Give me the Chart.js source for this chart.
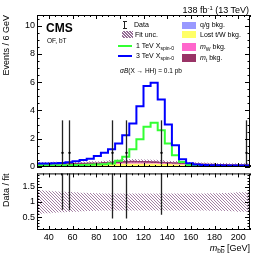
<!DOCTYPE html>
<html>
<head>
<meta charset="utf-8">
<script src="https://cdn.jsdelivr.net/npm/chart.js@4.4.0/dist/chart.umd.min.js"></script>
<style>
  body { margin: 0; background: #fff; }
  #wrap { position: relative; width: 266px; height: 256px; overflow: hidden;
          font-family: "Liberation Sans", Arial, Helvetica, sans-serif; color: #000; }
  canvas { position: absolute; left: 0; }
  .t { position: absolute; white-space: nowrap; z-index: 2; }
  .t sub { font-size: 72%; vertical-align: -0.35em; line-height: 0; }
  .t sup { font-size: 65%; vertical-align: 0.5em; line-height: 0; }
  .sw { position: absolute; z-index: 2; }
  .lg { font-size: 7px; line-height: 8px; }
</style>
</head>
<body>
<div id="wrap">
  <canvas id="top" width="266" height="176" style="top:0"></canvas>
  <canvas id="ratio" width="266" height="90" style="top:166px"></canvas>

  <div class="t" style="right:17px;top:5px;font-size:9px;line-height:10px;">138 fb<sup>-1</sup> (13 TeV)</div>
  <div class="t" style="left:46px;top:22px;font-size:12px;line-height:13px;font-weight:bold;">CMS</div>
  <div class="t" style="left:47px;top:37px;font-size:6.5px;line-height:7px;">OF, bT</div>

  <!-- legend, left column -->
  <div class="sw" style="left:124px;top:21px;width:1px;height:8px;background:#222;"></div>
  <div class="sw" style="left:122.5px;top:21px;width:4px;height:1px;background:#222;"></div>
  <div class="sw" style="left:122.5px;top:28px;width:4px;height:1px;background:#222;"></div>
  <div class="t lg" style="left:134px;top:21px;">Data</div>
  <div class="sw" id="hatchSw" style="left:122px;top:31px;width:11px;height:7px;"></div>
  <div class="t lg" style="left:135px;top:30.5px;">Fit unc.</div>
  <div class="sw" style="left:118px;top:44.5px;width:14px;height:2px;background:#33ff33;"></div>
  <div class="t lg" style="left:136px;top:41.5px;">1 TeV X<sub>spin-0</sub></div>
  <div class="sw" style="left:118px;top:55px;width:14px;height:2px;background:#0000ff;"></div>
  <div class="t lg" style="left:136px;top:52px;">3 TeV X<sub>spin-0</sub></div>
  <div class="t" style="left:120px;top:66.5px;font-size:6.5px;line-height:7px;"><i>σ</i><i>B</i>(X → HH) = 0.1 pb</div>

  <!-- legend, right column -->
  <div class="sw" style="left:182px;top:21.5px;width:14px;height:7px;background:#9999ff;"></div>
  <div class="t lg" style="left:200px;top:21px;">q/g bkg.</div>
  <div class="sw" style="left:182px;top:31px;width:14px;height:7px;background:#ffff66;"></div>
  <div class="t lg" style="left:200px;top:30.5px;">Lost t/W bkg.</div>
  <div class="sw" style="left:182px;top:42.5px;width:14px;height:8px;background:#ff66cc;"></div>
  <div class="t lg" style="left:200px;top:42.5px;"><i>m</i><sub>W</sub> bkg.</div>
  <div class="sw" style="left:182px;top:53.5px;width:14px;height:8px;background:#993366;"></div>
  <div class="t lg" style="left:200px;top:53.5px;"><i>m</i><sub>t</sub> bkg.</div>

  <div class="t" style="right:16px;top:243px;font-size:9px;line-height:10px;"><i>m</i><sub>b<span style="text-decoration:overline">b</span></sub> [GeV]</div>
</div>

<script>
// binning: 30 bins of 6 GeV from 30 to 210
const binEdges = [30, 36, 42, 48, 54, 60, 66, 72, 78, 84, 90, 96, 102, 108, 114, 120,
  126, 132, 138, 144, 150, 156, 162, 168, 174, 180, 186, 192, 198, 204, 210];

// stacked backgrounds (events per bin)
const bkgQG = [0.05, 0.05, 0.05, 0.05, 0.05, 0.05, 0.05, 0.05, 0.05, 0.05, 0.05, 0.05, 0.05, 0.05, 0.05,
  0.05, 0.05, 0.05, 0.05, 0.05, 0.05, 0.05, 0.05, 0.05, 0.05, 0.05, 0.05, 0.04, 0.04, 0.04];
const bkgLostTW = [0.08, 0.08, 0.09, 0.09, 0.1, 0.1, 0.11, 0.12, 0.13, 0.14, 0.16, 0.18, 0.19, 0.2, 0.2,
  0.2, 0.19, 0.18, 0.16, 0.14, 0.12, 0.1, 0.09, 0.08, 0.07, 0.06, 0.06, 0.05, 0.05, 0.05];
const bkgMW = [0.03, 0.03, 0.03, 0.03, 0.03, 0.03, 0.04, 0.04, 0.04, 0.05, 0.05, 0.05, 0.06, 0.06, 0.06,
  0.05, 0.05, 0.05, 0.04, 0.04, 0.04, 0.03, 0.03, 0.03, 0.03, 0.03, 0.03, 0.03, 0.03, 0.03];
const bkgMT = [0.1, 0.1, 0.1, 0.1, 0.1, 0.1, 0.1, 0.1, 0.1, 0.11, 0.12, 0.13, 0.13, 0.13, 0.12,
  0.12, 0.11, 0.1, 0.1, 0.1, 0.09, 0.09, 0.09, 0.09, 0.08, 0.08, 0.08, 0.08, 0.08, 0.08];

// relative fit uncertainty per bin
const fitRelUnc = [0.39, 0.37, 0.36, 0.34, 0.33, 0.32, 0.31, 0.3, 0.29, 0.28, 0.28, 0.28, 0.28, 0.28, 0.28,
  0.28, 0.28, 0.28, 0.28, 0.28, 0.28, 0.28, 0.28, 0.28, 0.29, 0.29, 0.3, 0.31, 0.32, 0.32];

// signals
const sig1TeV = [0.12, 0.12, 0.12, 0.13, 0.13, 0.14, 0.15, 0.16, 0.18, 0.2, 0.25, 0.45, 0.73, 1.25, 1.96,
  2.85, 3.13, 2.6, 1.67, 0.83, 0.35, 0.15, 0.1, 0.08, 0.07, 0.06, 0.06, 0.05, 0.05, 0.05];
const sig3TeV = [0.24, 0.25, 0.27, 0.28, 0.33, 0.4, 0.5, 0.59, 0.78, 1.01, 1.25, 1.67, 2.24, 3.08, 4.3,
  5.72, 5.96, 4.78, 3.0, 1.53, 0.54, 0.26, 0.18, 0.15, 0.13, 0.12, 0.11, 0.1, 0.1, 0.1];

// observed data (non-empty bins only)
const dataX = [51, 57, 93, 105, 135, 207];
const dataY = [1, 1, 1, 1, 1, 1];
const dataErrLow = [0.83, 0.83, 0.83, 0.83, 0.83, 0.83];
const dataErrHigh = [2.3, 2.3, 2.3, 2.3, 2.3, 2.3];

// ratio panel: data / fit error bars (upper ends are off scale)
const ratioX = [51, 57, 93, 105, 135];
const ratioLow = [0.74, 0.73, 0.45, 0.45, 0.58];
const ratioHigh = [6, 6, 5, 5, 6];

// ticks
const xTicks = [40, 60, 80, 100, 120, 140, 160, 180, 200];
const xMinor = [30, 35, 45, 50, 55, 65, 70, 75, 85, 90, 95, 105, 110, 115, 125, 130, 135,
  145, 150, 155, 165, 170, 175, 185, 190, 195, 205, 210];
const topYTicks = [0, 2, 4, 6, 8, 10];
const topYMinor = [0.5, 1, 1.5, 2.5, 3, 3.5, 4.5, 5, 5.5, 6.5, 7, 7.5, 8.5, 9, 9.5, 10.5];
const ratioYTicks = [0.5, 1, 1.5];
const ratioYMinor = [0.1, 0.2, 0.3, 0.4, 0.6, 0.7, 0.8, 0.9, 1.1, 1.2, 1.3, 1.4, 1.6, 1.7, 1.8, 1.9];

const FONT = '"Liberation Sans", Arial, sans-serif';

function histPoints(values) {
  return binEdges.map((e, i) => ({ x: e, y: values[Math.min(i, values.length - 1)] }));
}

function makeHatch(color) {
  const c = document.createElement('canvas');
  c.width = 3; c.height = 3;
  const g = c.getContext('2d');
  g.strokeStyle = color;
  g.lineWidth = 1;
  g.beginPath();
  g.moveTo(-1, -1); g.lineTo(4, 4);
  g.moveTo(-1, 2); g.lineTo(1, 4);
  g.moveTo(2, -1); g.lineTo(4, 1);
  g.stroke();
  return g.createPattern(c, 'repeat');
}

// inward ticks on all four sides, plus frame
function frameTicks(xMaj, xMin, yMaj, yMin, lx, ly) {
  return {
    id: 'frameTicks',
    afterDraw(chart) {
      const { ctx, chartArea: a, scales } = chart;
      ctx.save();
      ctx.strokeStyle = '#000';
      ctx.lineWidth = 1;
      ctx.beginPath();
      const vx = (vals, L) => vals.forEach(v => {
        const p = Math.round(scales.x.getPixelForValue(v)) + 0.5;
        ctx.moveTo(p, a.bottom); ctx.lineTo(p, a.bottom - L);
        ctx.moveTo(p, a.top); ctx.lineTo(p, a.top + L);
      });
      const vy = (vals, L) => vals.forEach(v => {
        if (v < scales.y.min || v > scales.y.max) return;
        const p = Math.round(scales.y.getPixelForValue(v)) + 0.5;
        ctx.moveTo(a.left, p); ctx.lineTo(a.left + L, p);
        ctx.moveTo(a.right, p); ctx.lineTo(a.right - L, p);
      });
      vx(xMaj, lx); vx(xMin, lx / 2);
      vy(yMaj, ly); vy(yMin, ly / 2);
      ctx.stroke();
      ctx.strokeRect(a.left + 0.5, a.top + 0.5, a.right - a.left - 1, a.bottom - a.top - 1);
      ctx.restore();
    }
  };
}

function errorBars(xs, lows, highs, centers) {
  return {
    id: 'errorBars',
    afterDatasetsDraw(chart) {
      const { ctx, chartArea: a, scales: { x, y } } = chart;
      ctx.save();
      ctx.beginPath();
      ctx.rect(a.left, a.top, a.right - a.left, a.bottom - a.top);
      ctx.clip();
      ctx.strokeStyle = '#222';
      ctx.fillStyle = '#000';
      ctx.lineWidth = 1.3;
      xs.forEach((xv, i) => {
        const px = Math.round(x.getPixelForValue(xv)) + 0.5;
        ctx.beginPath();
        ctx.moveTo(px, y.getPixelForValue(lows[i]));
        ctx.lineTo(px, y.getPixelForValue(highs[i]));
        ctx.stroke();
        if (centers) {
          ctx.beginPath();
          ctx.arc(px, y.getPixelForValue(centers[i]), 1.2, 0, 2 * Math.PI);
          ctx.fill();
        }
      });
      ctx.restore();
    }
  };
}

// cumulative stacks
const stack1 = bkgQG.slice();
const stack2 = stack1.map((v, i) => v + bkgLostTW[i]);
const stack3 = stack2.map((v, i) => v + bkgMW[i]);
const stack4 = stack3.map((v, i) => v + bkgMT[i]);
const uncLo = stack4.map((v, i) => v * (1 - fitRelUnc[i]));
const uncHi = stack4.map((v, i) => v * (1 + fitRelUnc[i]));

const hatch = makeHatch('rgba(135, 85, 135, 0.75)');
document.getElementById('hatchSw').style.background =
  'repeating-linear-gradient(45deg, #fff 0 1px, #946c94 1px 2.2px)';

const histBase = { stepped: true, pointRadius: 0, borderWidth: 0 };
const noGrid = { display: false, drawTicks: false };

new Chart(document.getElementById('top'), {
  type: 'line',
  data: {
    datasets: [
      { ...histBase, data: histPoints(stack1), backgroundColor: '#9999ff', fill: 'origin', order: 10 },
      { ...histBase, data: histPoints(stack2), backgroundColor: '#ffff66', fill: '-1', order: 9 },
      { ...histBase, data: histPoints(stack3), backgroundColor: '#ff66cc', fill: '-1', order: 8 },
      { ...histBase, data: histPoints(stack4), backgroundColor: '#993366', fill: '-1', order: 7 },
      { ...histBase, data: histPoints(uncLo), backgroundColor: 'transparent', fill: false, order: 6 },
      { ...histBase, data: histPoints(uncHi), backgroundColor: hatch, fill: '-1', order: 5 },
      { ...histBase, data: histPoints(sig1TeV), borderColor: '#33ff33', borderWidth: 2, fill: false, order: 2 },
      { ...histBase, data: histPoints(sig3TeV), borderColor: '#0000ff', borderWidth: 2, fill: false, order: 1 }
    ]
  },
  options: {
    responsive: false,
    animation: false,
    devicePixelRatio: 1,
    layout: { padding: { top: 15, right: 16, bottom: 9, left: 0 } },
    plugins: { legend: { display: false }, tooltip: { enabled: false } },
    scales: {
      x: { type: 'linear', min: 30, max: 210, display: false },
      y: {
        min: 0, max: 10.75,
        grid: noGrid, border: { display: false },
        afterBuildTicks: s => { s.ticks = topYTicks.map(v => ({ value: v })); },
        afterFit: s => { s.width = 37; },
        ticks: { padding: 2, color: '#000', font: { family: FONT, size: 9 }, callback: v => String(v) },
        title: { display: true, text: 'Events / 6 GeV', align: 'end', color: '#000',
                 padding: { top: 1, bottom: 0 }, font: { family: FONT, size: 9 } }
      }
    }
  },
  plugins: [errorBars(dataX, dataY.map((v, i) => v - dataErrLow[i]), dataY.map((v, i) => v + dataErrHigh[i]), dataY),
            frameTicks(xTicks, xMinor, topYTicks, topYMinor, 4, 5)]
});

const ratioLoBand = fitRelUnc.map(r => 1 - r);
const ratioHiBand = fitRelUnc.map(r => 1 + r);

new Chart(document.getElementById('ratio'), {
  type: 'line',
  data: {
    datasets: [
      { ...histBase, data: histPoints(ratioLoBand), backgroundColor: 'transparent', fill: false },
      { ...histBase, data: histPoints(ratioHiBand), backgroundColor: hatch, fill: '-1' }
    ]
  },
  options: {
    responsive: false,
    animation: false,
    devicePixelRatio: 1,
    layout: { padding: { top: 6, right: 16, bottom: 0, left: 0 } },
    plugins: { legend: { display: false }, tooltip: { enabled: false } },
    scales: {
      x: {
        type: 'linear', min: 30, max: 210,
        grid: noGrid, border: { display: false },
        afterBuildTicks: s => { s.ticks = xTicks.map(v => ({ value: v })); },
        afterFit: s => { s.height = 26; },
        ticks: { padding: 2, autoSkip: false, maxRotation: 0, color: '#000',
                 font: { family: FONT, size: 9 }, callback: v => String(v) }
      },
      y: {
        min: 0.07, max: 1.95,
        grid: noGrid, border: { display: false },
        afterBuildTicks: s => { s.ticks = ratioYTicks.map(v => ({ value: v })); },
        afterFit: s => { s.width = 37; },
        ticks: { padding: 2, color: '#000', font: { family: FONT, size: 9 }, callback: v => String(v) },
        title: { display: true, text: 'Data / fit', align: 'end', color: '#000',
                 padding: { top: 1, bottom: 0 }, font: { family: FONT, size: 9 } }
      }
    }
  },
  plugins: [errorBars(ratioX, ratioLow, ratioHigh, null),
            frameTicks(xTicks, xMinor, ratioYTicks, ratioYMinor, 4, 5)]
});
</script>
</body>
</html>
